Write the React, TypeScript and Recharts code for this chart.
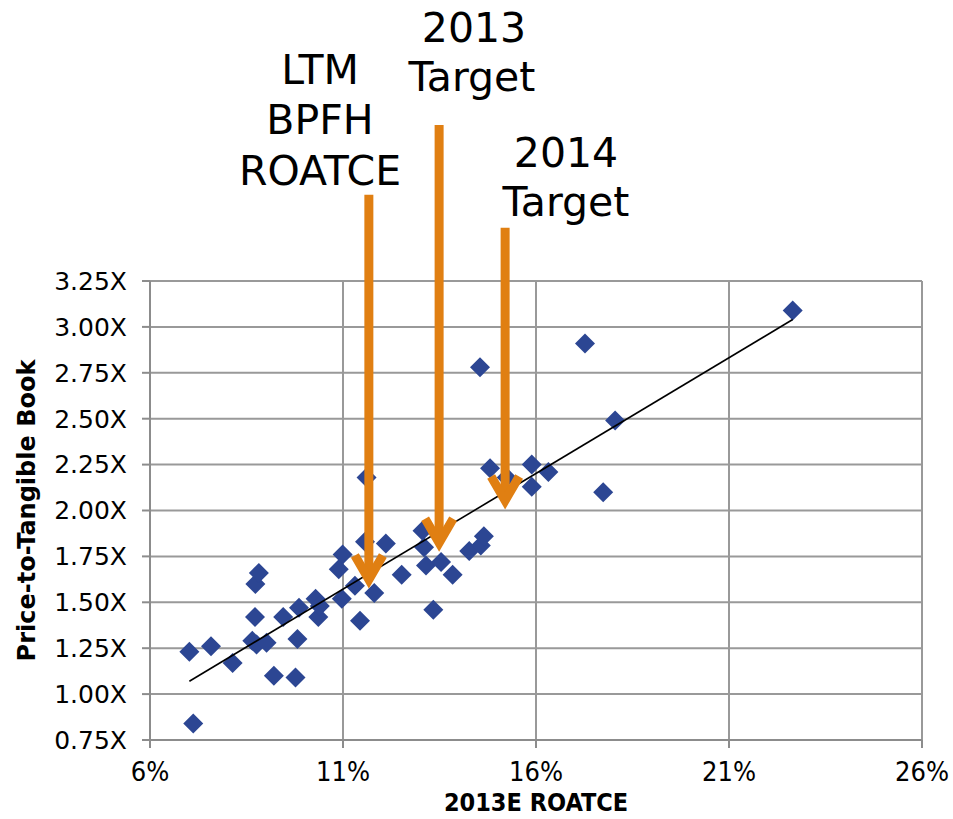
import {
  ScatterChart,
  Scatter,
  XAxis,
  YAxis,
  CartesianGrid,
  ReferenceLine,
} from "recharts";

// 2013E ROATCE (%) and price-to-tangible-book (x) for each bank
const roatce = [
  7.02, 7.58, 8.14, 7.12, 8.73, 8.82, 8.72, 8.65, 8.76, 9.02, 9.21, 9.77, 9.45, 9.82, 9.86,
  10.29, 10.36, 10.4, 10.89, 10.99, 10.97, 11.44, 11.31, 11.57, 12.11, 11.81, 12.52, 11.61,
  13.06, 13.1, 13.15, 13.54, 13.84, 13.34, 14.27, 14.57, 14.65, 14.81, 15.24, 15.89, 15.89,
  16.32, 17.74, 22.65, 17.27, 18.05, 14.55,
];
const ptb = [
  1.23, 1.26, 1.17, 0.84, 1.6, 1.66, 1.42, 1.29, 1.27, 1.28, 1.1, 1.09, 1.42, 1.3, 1.47,
  1.52, 1.42, 1.48, 1.68, 1.76, 1.52, 1.4, 1.59, 1.83, 1.82, 1.55, 1.65, 2.18,
  1.89, 1.8, 1.7, 1.72, 1.65, 1.46, 1.78, 1.81, 1.86, 2.23, 2.18, 2.25, 2.13,
  2.21, 2.1, 3.09, 2.91, 2.49, 2.78,
];

// linear fit, end points
const trendX = [7.02, 22.65];
const trendY = [1.07, 3.04];

// arrows: x position, top of shaft, tip (data units)
const arrowX = [11.67, 13.49, 15.2];
const arrowTop = [3.72, 4.1, 3.54];
const arrowTip = [1.57, 1.77, 2.0];

const xTicks = [6, 11, 16, 21, 26];
const yTicks = [0.75, 1, 1.25, 1.5, 1.75, 2, 2.25, 2.5, 2.75, 3, 3.25];

const points = roatce.map((x, i) => ({ x, y: ptb[i] }));
const trend = trendX.map((x, i) => ({ x, y: trendY[i] }));

const BLUE = "#2c4693";
const ORANGE = "#e07f12";
const GRID = "#999";
const AXIS = "#8c8c8c";

const Diamond = (props: any) => {
  const { cx, cy } = props;
  if (cx == null || cy == null) return <g />;
  const r = 10;
  return (
    <polygon
      points={`${cx},${cy - r} ${cx + r},${cy} ${cx},${cy + r} ${cx - r},${cy}`}
      fill={BLUE}
    />
  );
};

const Arrow = (props: any) => {
  const { x1, y1, y2 } = props;
  const v = y2 - 10; // vertex of the chevron (miter reaches the tip)
  return (
    <g>
      <line x1={x1} y1={y1} x2={x1} y2={v} stroke={ORANGE} strokeWidth={9} />
      <polyline
        points={`${x1 - 14},${v - 24} ${x1},${v} ${x1 + 14},${v - 24}`}
        fill="none"
        stroke={ORANGE}
        strokeWidth={9}
        strokeLinejoin="miter"
      />
    </g>
  );
};

const textFont = "'DejaVu Sans', Verdana, sans-serif";
const narrowFont = "'Liberation Sans Narrow', 'DejaVu Sans Condensed', sans-serif";

export default function App() {
  return (
    <div
      style={{
        position: "absolute",
        left: 0,
        top: 0,
        width: 953,
        height: 819,
        background: "#fff",
      }}
    >
      <ScatterChart
        width={953}
        height={819}
        margin={{ top: 281, right: 31, bottom: 0, left: 0 }}
      >
        <CartesianGrid stroke={GRID} strokeWidth={2} />
        <XAxis
          type="number"
          dataKey="x"
          domain={[6, 26]}
          ticks={xTicks}
          tickFormatter={(v) => `${v}%`}
          height={79}
          tickSize={8}
          tickMargin={14}
          stroke={AXIS}
          strokeWidth={2}
          tick={{ fill: "#000", fontSize: 27, fontFamily: narrowFont }}
          label={{
            value: "2013E ROATCE",
            position: "insideBottom",
            offset: 8,
            fill: "#000",
            fontSize: 25,
            fontWeight: "bold",
            fontFamily: narrowFont,
          }}
        />
        <YAxis
          type="number"
          dataKey="y"
          domain={[0.75, 3.25]}
          ticks={yTicks}
          tickFormatter={(v) => `${v.toFixed(2)}X`}
          width={150}
          tickSize={8}
          tickMargin={15}
          stroke={AXIS}
          strokeWidth={2}
          tick={{ fill: "#000", fontSize: 25, fontFamily: textFont }}
          label={{
            value: "Price-to-Tangible Book",
            angle: -90,
            position: "insideLeft",
            offset: 26,
            fill: "#000",
            fontSize: 24,
            fontWeight: "bold",
            fontFamily: textFont,
            style: { textAnchor: "middle" },
          }}
        />
        <Scatter data={points} shape={Diamond} isAnimationActive={false} />
        <Scatter
          data={trend}
          line={{ stroke: "#000", strokeWidth: 1.6 }}
          shape={() => <g />}
          isAnimationActive={false}
        />
        {arrowX.map((x, i) => (
          <ReferenceLine
            key={i}
            segment={[
              { x, y: arrowTop[i] },
              { x, y: arrowTip[i] },
            ]}
            ifOverflow="visible"
            shape={Arrow}
            zIndex={700}
          />
        ))}
      </ScatterChart>

      {/* annotation text above the arrows */}
      <svg
        width={953}
        height={819}
        style={{ position: "absolute", left: 0, top: 0, pointerEvents: "none" }}
      >
        <g fontFamily={textFont} fontSize={41} fill="#000" textAnchor="middle">
          <text x={320} y={84}>LTM</text>
          <text x={320} y={134}>BPFH</text>
          <text x={320} y={185}>ROATCE</text>
          <text x={474} y={42}>2013</text>
          <text x={472} y={91}>Target</text>
          <text x={566} y={167}>2014</text>
          <text x={566} y={216}>Target</text>
        </g>
      </svg>
    </div>
  );
}
